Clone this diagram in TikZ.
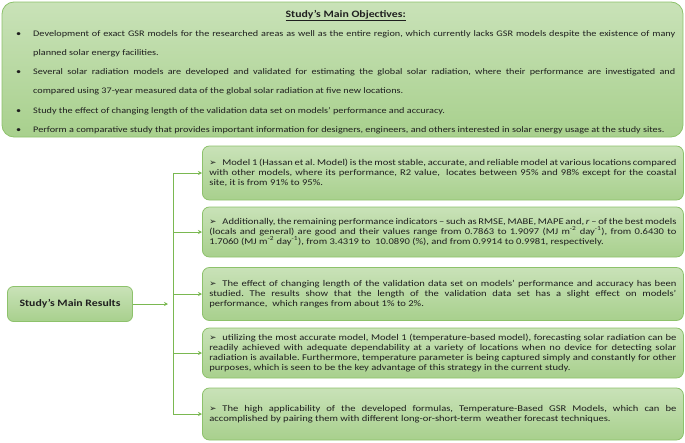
\documentclass[tikz,border=0pt]{standalone}
\usepackage{fontspec}
\setmainfont{Carlito}[FakeStretch=1.2]
\newfontfamily\symfont{DejaVu Sans}
\usetikzlibrary{positioning,arrows.meta}
\frenchspacing

\definecolor{boxtop}{HTML}{C9E2B8}
\definecolor{boxbot}{HTML}{A8D08D}
\definecolor{boxline}{HTML}{8DC26B}
\definecolor{linkgreen}{HTML}{7AB851}
\definecolor{txt}{HTML}{1F1F1F}

\tikzstyle{greenbox}=[draw=boxline, line width=0.8pt, top color=boxtop, bottom color=boxbot, rounded corners=7pt, text=txt]
\tikzstyle{resbox}=[greenbox, anchor=west, text width=467pt, inner xsep=7pt, inner ysep=3pt, align=justify, font=\fontsize{8.8}{10.2}\selectfont]
\tikzstyle{link}=[-{Stealth[length=4pt,width=4pt]}, linkgreen, line width=1pt]

\newcommand{\resitem}{\hangindent=13pt\hangafter=1\makebox[13pt][l]{\symfont\fontsize{8.5}{8}\selectfont ➢}}
\newcommand{\objitem}{\par\hangindent=17pt\hangafter=1\makebox[17pt][l]{•}}

\begin{document}
\begin{tikzpicture}[x=1pt,y=-1pt]
\useasboundingbox (0,0) rectangle (685,442);

% objectives
\node[greenbox, rounded corners=12pt, minimum width=681pt, minimum height=135pt] (obj) at (342.5,69.5) {};
\node[anchor=base west, text width=659pt, align=justify, inner sep=0pt, text=txt, font=\fontsize{8.5}{19.2}\selectfont] (objtxt) at (16,17) {%
\centerline{\fontsize{9.8}{19.2}\selectfont\bfseries\underline{Study’s Main Objectives:}}%
\objitem Development of exact GSR models for the researched areas as well as the entire region, which currently lacks GSR models despite the existence of many \linebreak planned solar energy facilities.
\objitem Several solar radiation models are developed and validated for estimating the global solar radiation, where their performance are investigated and \linebreak compared using 37-year measured data of the global solar radiation at five new locations.
\objitem Study the effect of changing length of the validation data set on models’ performance and accuracy.
\objitem Perform a comparative study that provides important information for designers, engineers, and others interested in solar energy usage at the study sites.\par};

% results
\node[greenbox, rounded corners=6pt, minimum width=125pt, minimum height=35pt, font=\bfseries\fontsize{9.8}{12}\selectfont] (res) at (70,304) {Study’s Main Results};

\node[resbox, minimum height=54pt] (r1) at (202,173) {\resitem Model 1 (Hassan et al. Model) is the most stable, accurate, and reliable model at various locations compared \linebreak with other models, where its performance, R2 value, \ locates between 95\% and 98\% except for the coastal \linebreak site, it is from 91\% to 95\%.};
\node[resbox, minimum height=50pt] (r2) at (202,232) {\resitem Additionally, the remaining performance indicators -- such as RMSE, MABE, MAPE and, \textit{r} -- of the best models \linebreak (locals and general) are good and their values range from 0.7863 to 1.9097 (MJ m\textsuperscript{-2} day\textsuperscript{-1}), from 0.6430 to \linebreak 1.7060 (MJ m\textsuperscript{-2} day\textsuperscript{-1}), from 3.4319 to \ 10.0890 (\%), and from 0.9914 to 0.9981, respectively.};
\node[resbox, minimum height=53pt] (r3) at (202,294) {\resitem The effect of changing length of the validation data set on models’ performance and accuracy has been \linebreak studied. The results show that the length of the validation data set has a slight effect on models’ \linebreak performance, \ which ranges from about 1\% to 2\%.};
\node[resbox, minimum height=50pt] (r4) at (202,353) {\resitem utilizing the most accurate model, Model 1 (temperature-based model), forecasting solar radiation can be \linebreak readily achieved with adequate dependability at a variety of locations when no device for detecting solar \linebreak radiation is available. Furthermore, temperature parameter is being captured simply and constantly for other \linebreak purposes, which is seen to be the key advantage of this strategy in the current study.};
\node[resbox, minimum height=52pt] (r5) at (202,414) {\resitem The high applicability of the developed formulas, Temperature-Based GSR Models, which can be \linebreak accomplished by pairing them with different long-or-short-term \ weather forecast techniques.};

% connectors
\coordinate (hub) at (168,304);
\coordinate (spine) at (173,0);
\draw[link] (res) -- (hub);
\draw[linkgreen, line width=1pt] (r1.west -| spine) -- (r5.west -| spine);
\foreach \i in {1,...,5}
  \draw[link] (r\i.west -| spine) -- (r\i.west);
\end{tikzpicture}
\end{document}
